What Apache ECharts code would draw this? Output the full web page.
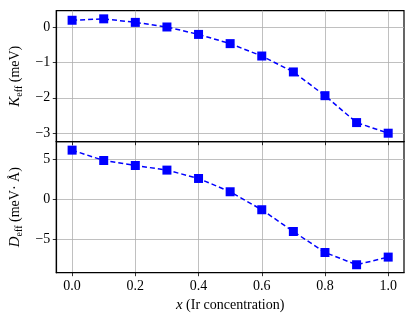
<!DOCTYPE html>
<html><head><meta charset="utf-8">
<script src="https://cdn.jsdelivr.net/npm/echarts@6/dist/echarts.min.js"></script>
<style>html,body{margin:0;padding:0;background:#fff}#c{width:415px;height:318px}</style>
</head><body><div id="c"></div>
<script>
const xValues = [0.0, 0.1, 0.2, 0.3, 0.4, 0.5, 0.6, 0.7, 0.8, 0.9, 1.0];
const kEff = [0.19, 0.23, 0.13, 0.0, -0.21, -0.47, -0.82, -1.27, -1.94, -2.70, -3.0];
const dEff = [6.2, 4.9, 4.27, 3.69, 2.64, 0.97, -1.29, -4.02, -6.66, -8.2, -7.24];
const xTicks = [0, 0.2, 0.4, 0.6, 0.8, 1.0];
const kTicks = [-3, -2, -1, 0];
const dTicks = [-5, 0, 5];

const FONT = 'Liberation Serif';
const fmtNum = v => String(v).replace('-', '\u2212');
const pairs = arr => xValues.map((x, i) => [x, arr[i]]);

const chart = echarts.init(document.getElementById('c'), null, {renderer: 'canvas'});
const gridStyle = {show: true, borderColor: '#000', borderWidth: 1.2, backgroundColor: 'transparent'};
const splitLine = {show: true, lineStyle: {color: '#b0b0b0', width: 0.8}};
const axisTick = {show: true, inside: false, length: 3.5, lineStyle: {color: '#000', width: 0.8}};
const labelStyle = {color: '#000', fontFamily: FONT, fontSize: 14};
const axisLine = {show: true, onZero: false, lineStyle: {color: '#000', width: 1.2}};

function yAxis(gridIndex, min, max, ticks, nameRich) {
  return {
    type: 'value', gridIndex, min, max,
    axisLine: axisLine,
    axisTick: Object.assign({customValues: ticks}, axisTick),
    axisLabel: Object.assign({customValues: ticks, margin: 6, formatter: fmtNum}, labelStyle),
    splitLine: splitLine,
    name: nameRich.text, nameLocation: 'middle', nameRotate: 90, nameGap: 29,
    nameTextStyle: {color: '#000', fontFamily: FONT, fontSize: 14, rich: nameRich.rich}
  };
}
const rich = {
  it: {fontFamily: FONT, fontStyle: 'italic', fontSize: 15, color: '#000'},
  sub: {fontFamily: FONT, fontSize: 10, color: '#000', padding: [8, 0, 0, 0]},
  n: {fontFamily: FONT, fontSize: 14, color: '#000'}
};

chart.setOption({
  animation: false,
  grid: [
    Object.assign({left: 52, right: 11, top: 10.7, height: 131}, gridStyle),
    Object.assign({left: 52, right: 11, top: 141.7, height: 131}, gridStyle)
  ],
  xAxis: [0, 1].map(g => ({
    type: 'value', gridIndex: g, min: -0.05, max: 1.05, position: 'bottom',
    axisLine: axisLine,
    axisTick: Object.assign({customValues: xTicks}, axisTick),
    axisLabel: Object.assign({show: g === 1, customValues: xTicks, margin: 7,
      formatter: v => v.toFixed(1)}, labelStyle),
    splitLine: splitLine,
    name: g === 1 ? '{it|x} {n|(Ir concentration)}' : '',
    nameLocation: 'middle', nameGap: 25,
    nameTextStyle: {color: '#000', fontFamily: FONT, fontSize: 14, rich: rich}
  })),
  yAxis: [
    yAxis(0, -3.24, 0.46, kTicks, {text: '{it|K}{sub|eff} {n|(meV)}', rich}),
    yAxis(1, -9.2, 7.26, dTicks, {text: '{it|D}{sub|eff} {n|(meV\u00b7 \u00c5)}', rich})
  ],
  series: [
    {type: 'line', xAxisIndex: 0, yAxisIndex: 0, data: pairs(kEff)},
    {type: 'line', xAxisIndex: 1, yAxisIndex: 1, data: pairs(dEff)}
  ].map(s => Object.assign(s, {
    symbol: 'rect', symbolSize: 9,
    itemStyle: {color: '#0000ff'},
    lineStyle: {color: '#0000ff', width: 1.5, type: [5, 3]}
  }))
});
</script></body></html>
